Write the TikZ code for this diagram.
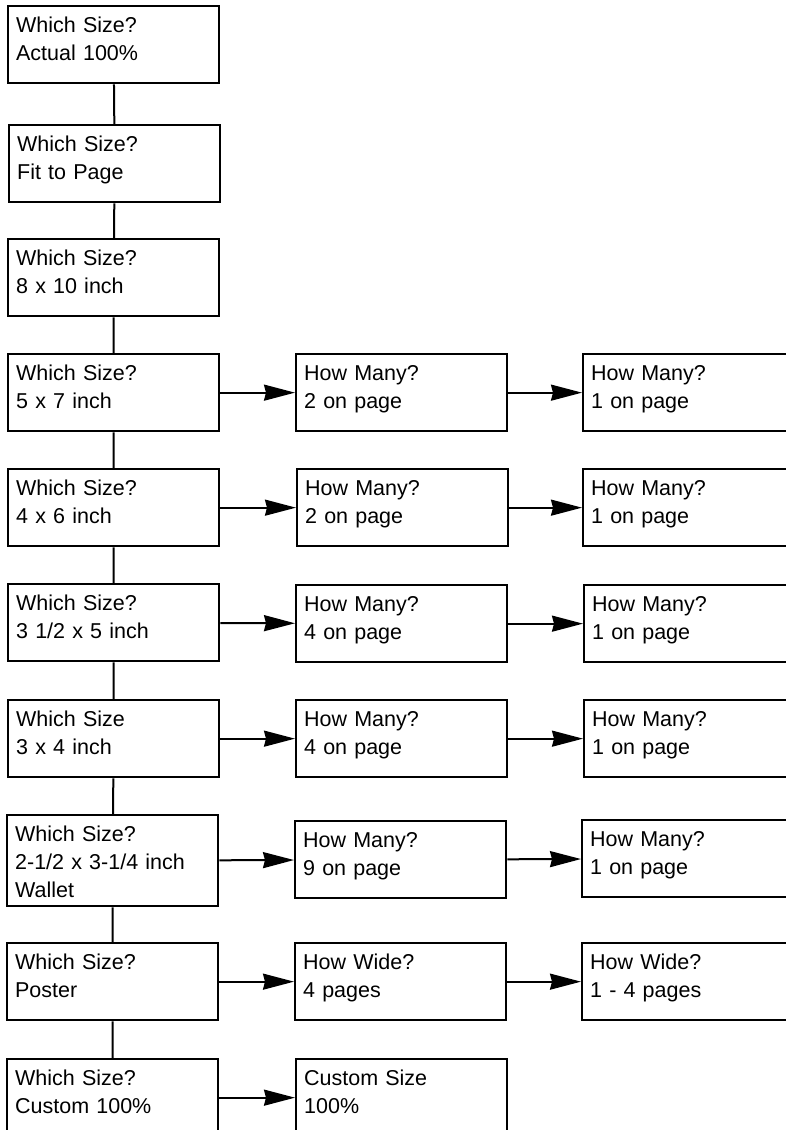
\documentclass[tikz,border=0pt]{standalone}
\usepackage{fontspec}
\setmainfont{Liberation Sans}
\usepackage{tikz}
\usetikzlibrary{arrows.meta}

\tikzset{
  sizebox/.style={draw,line width=2.3pt,anchor=north west,inner xsep=8pt,inner ysep=0pt,
    text width=195pt,align=left,text height=26pt,text depth=51pt,
    font=\fontsize{21.5}{28}\selectfont},
  tallbox/.style={sizebox,text depth=65pt},
  link/.style={line width=2pt},
  flow/.style={line width=2pt,-{Stealth[length=31pt,width=16pt,inset=2pt]}}
}

\begin{document}
\begin{tikzpicture}[x=1pt,y=-1pt]
          \useasboundingbox (0,0) rectangle (786,1130);
          \clip (0,0) rectangle (786,1130);
          % which size column
          \node[sizebox] (actual) at (7,5) {Which Size?\\Actual 100\%};
          \node[sizebox] (fit) at (8,124) {Which Size?\\Fit to Page};
          \node[sizebox] (tenby) at (7,238) {Which Size?\\8 x 10 inch};
          \node[sizebox] (sevenby) at (7,353) {Which Size?\\5 x 7 inch};
          \node[sizebox] (sixby) at (7,468) {Which Size?\\4 x 6 inch};
          \node[sizebox] (fiveby) at (7,583) {Which Size?\\3 1/2 x 5 inch};
          \node[sizebox] (fourby) at (7,699) {Which Size\\3 x 4 inch};
          \node[tallbox] (wallet) at (6,814) {Which Size?\\2-1/2 x 3-1/4 inch\\Wallet};
          \node[sizebox] (poster) at (6,942) {Which Size?\\Poster};
          \node[sizebox] (custom) at (6,1058) {Which Size?\\Custom 100\%};
          % how many / how wide
          \node[sizebox] (sevenmany) at (295,353) {How Many?\\2 on page};
          \node[sizebox] (sixmany) at (296,468) {How Many?\\2 on page};
          \node[sizebox] (fivemany) at (295,584) {How Many?\\4 on page};
          \node[sizebox] (fourmany) at (295,699) {How Many?\\4 on page};
          \node[sizebox] (walletmany) at (294,820) {How Many?\\9 on page};
          \node[sizebox] (posterwide) at (294,942) {How Wide?\\4 pages};
          \node[sizebox] (customsize) at (295,1058) {Custom Size\\100\%};
          \node[sizebox] (sevenone) at (582,353) {How Many?\\1 on page};
          \node[sizebox] (sixone) at (582,468) {How Many?\\1 on page};
          \node[sizebox] (fiveone) at (583,584) {How Many?\\1 on page};
          \node[sizebox] (fourone) at (583,699) {How Many?\\1 on page};
          \node[sizebox] (walletone) at (581,819) {How Many?\\1 on page};
          \node[sizebox] (posterall) at (581,942) {How Wide?\\1 - 4 pages};
          % vertical links
          \draw[link] (actual) -- (fit) -- (tenby) -- (sevenby) -- (sixby) -- (fiveby)
            -- (fourby) -- (wallet) -- (poster) -- (custom);
          % arrows
          \draw[flow] (sevenby) -- (sevenmany);
          \draw[flow] (sevenmany) -- (sevenone);
          \draw[flow] (sixby) -- (sixmany);
          \draw[flow] (sixmany) -- (sixone);
          \draw[flow] (fiveby) -- (fivemany);
          \draw[flow] (fivemany) -- (fiveone);
          \draw[flow] (fourby) -- (fourmany);
          \draw[flow] (fourmany) -- (fourone);
          \draw[flow] (wallet) -- (walletmany);
          \draw[flow] (walletmany) -- (walletone);
          \draw[flow] (poster) -- (posterwide);
          \draw[flow] (posterwide) -- (posterall);
          \draw[flow] (custom) -- (customsize);
        \end{tikzpicture}
\end{document}
